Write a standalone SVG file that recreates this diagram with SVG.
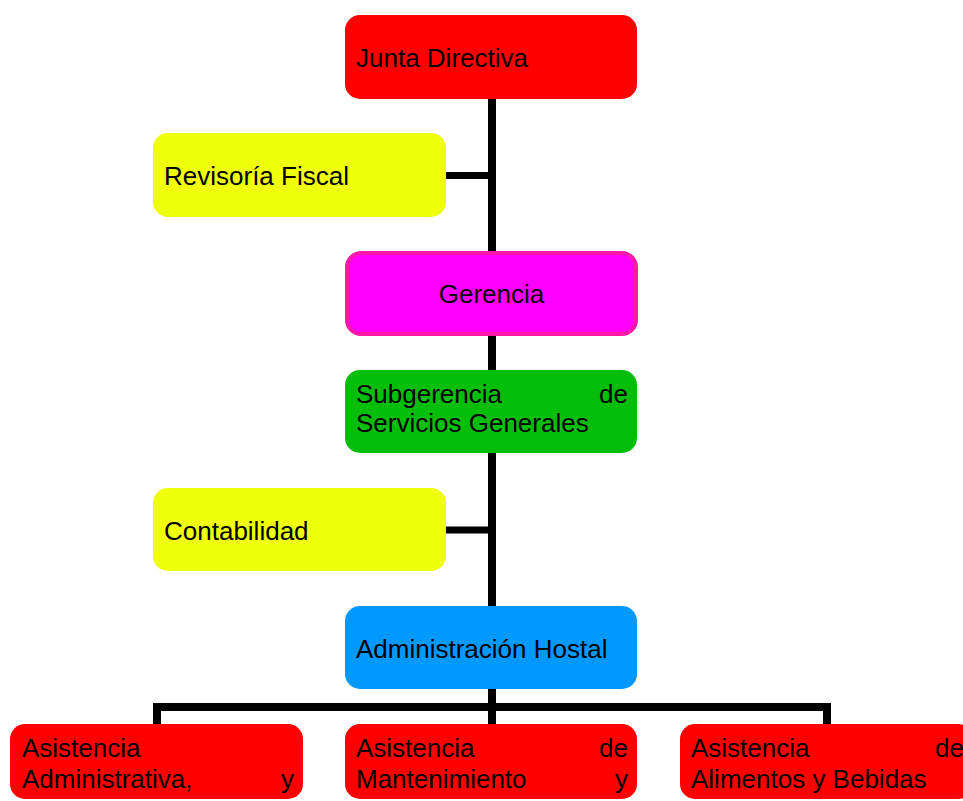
<svg xmlns="http://www.w3.org/2000/svg" width="963" height="801" viewBox="0 0 963 801">
<style>
text{font-family:"Liberation Sans",Arial,sans-serif;font-size:26px;fill:#000}
.e{text-anchor:end}
.m{text-anchor:middle}
.red{fill:#FF0000}
.yel{fill:#F0FF0A}
.con{stroke:#000;fill:none;stroke-linecap:butt}
</style>
<rect width="963" height="801" fill="#fff"/>
<g id="connectors" class="con">
<line x1="492" y1="99" x2="492" y2="252" stroke-width="8"/>
<line x1="446" y1="175.5" x2="492" y2="175.5" stroke-width="7"/>
<line x1="492" y1="334" x2="492" y2="370" stroke-width="8"/>
<line x1="492" y1="453" x2="492" y2="606" stroke-width="8"/>
<line x1="446" y1="530" x2="492" y2="530" stroke-width="7"/>
<line x1="492" y1="689" x2="492" y2="724" stroke-width="8"/>
<polyline points="157,724 157,707 827,707 827,724" stroke-width="8"/>
</g>
<g id="junta">
<rect class="red" x="345" y="15" width="292" height="84" rx="15"/>
<text x="356" y="67">Junta Directiva</text>
</g>
<g id="revisoria">
<rect class="yel" x="153" y="133" width="293" height="84" rx="15"/>
<text x="164" y="185">Revisoría Fiscal</text>
</g>
<g id="gerencia">
<rect x="347" y="253" width="289" height="81" rx="14" fill="#FF00FF" stroke="#FF18A8" stroke-width="4"/>
<text class="m" x="491.5" y="303">Gerencia</text>
</g>
<g id="subgerencia">
<rect x="345" y="370" width="292" height="83" rx="15" fill="#04BE0A"/>
<text x="356" y="403">Subgerencia</text>
<text class="e" x="628" y="403">de</text>
<text x="356" y="432">Servicios Generales</text>
</g>
<g id="contabilidad">
<rect class="yel" x="153" y="488" width="293" height="83" rx="15"/>
<text x="164" y="540">Contabilidad</text>
</g>
<g id="administracion">
<rect x="345" y="606" width="292" height="83" rx="15" fill="#0099FF"/>
<text x="356" y="658">Administración Hostal</text>
</g>
<g id="asist-admin">
<rect class="red" x="10" y="724" width="293" height="75" rx="15"/>
<text x="22" y="757">Asistencia</text>
<text x="22" y="788">Administrativa,</text>
<text class="e" x="294" y="788">y</text>
</g>
<g id="asist-mant">
<rect class="red" x="345" y="724" width="292" height="75" rx="15"/>
<text x="356" y="757">Asistencia</text>
<text class="e" x="628" y="757">de</text>
<text x="356" y="788">Mantenimiento</text>
<text class="e" x="628" y="788">y</text>
</g>
<g id="asist-alim">
<rect class="red" x="680" y="724" width="293" height="75" rx="15"/>
<text x="691" y="757">Asistencia</text>
<text class="e" x="964" y="757">de</text>
<text x="691" y="788">Alimentos y Bebidas</text>
</g>
</svg>
